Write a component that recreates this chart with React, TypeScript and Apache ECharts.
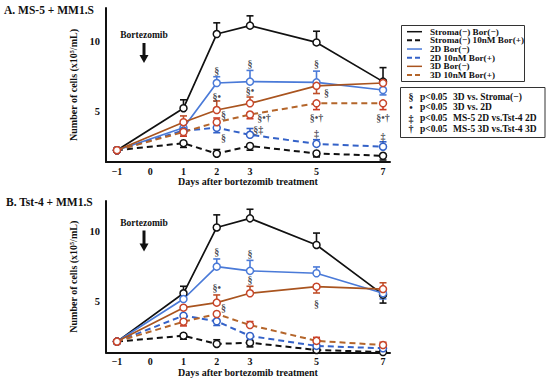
import React, { useEffect, useRef } from "react";
import * as echarts from "echarts";

const days = [-1, 1, 2, 3, 5, 7];
const xTickValues = [-1, 0, 1, 2, 3, 5, 7];
const yTickValues = [5, 10];
const seriesNames = [
  "Stroma(−) Bor(−)",
  "Stroma(−) 10nM Bor(+)",
  "2D Bor(−)",
  "2D 10nM Bor(+)",
  "3D Bor(−)",
  "3D 10nM Bor(+)",
];

// Panel A: MS-5 + MM1.S (x10^5 cells/mL)
const aStromaNeg = [2.2, 5.2, 10.5, 11.1, 9.9, 7.1];
const aStromaBor = [2.2, 2.7, 1.95, 2.5, 1.97, 1.8];
const a2DNeg = [2.2, 3.8, 7.0, 7.1, 7.05, 6.5];
const a2DBor = [2.2, 3.6, 3.8, 3.3, 2.65, 2.45];
const a3DNeg = [2.2, 4.2, 5.07, 5.55, 6.8, 7.0];
const a3DBor = [2.2, 3.5, 4.2, 4.75, 5.55, 5.55];
// signed error bar lengths (+ up, − down, 0 none)
const aStromaNegErr = [0, 0.6, 0.8, 0.7, 0.8, 1.0];
const aStromaBorErr = [0, -0.3, 0.3, -0.3, -0.25, -0.3];
const a2DNegErr = [0, -0.6, 0.45, 0.8, 0.8, -0.35];
const a2DBorErr = [0, 0, -0.35, 0.45, 0.3, 0.35];
const a3DNegErr = [0, 0.45, 0.65, 0.45, -0.55, 0.2];
const a3DBorErr = [0, -0.3, 0.3, -0.3, -0.45, -0.45];

// Panel B: Tst-4 + MM1.S
const bStromaNeg = [2.15, 5.6, 10.3, 10.95, 9.05, 5.5];
const bStromaBor = [2.15, 2.57, 1.98, 2.07, 1.55, 1.4];
const b2DNeg = [2.15, 5.19, 7.5, 7.2, 7.03, 5.6];
const b2DBor = [2.15, 4.0, 3.6, 2.55, 1.84, 1.67];
const b3DNeg = [2.15, 4.57, 4.93, 5.6, 6.07, 5.9];
const b3DBor = [2.15, 3.57, 4.12, 3.33, 2.2, 1.9];
const bStromaNegErr = [0, 0.5, 0.9, 0.65, 0.85, -0.6];
const bStromaBorErr = [0, -0.25, 0.3, -0.3, 0, 0];
const b2DNegErr = [0, 0, 0.55, 0.75, 0.45, -0.4];
const b2DBorErr = [0, 0, -0.3, -0.3, 0, 0];
const b3DNegErr = [0, 0, 0.55, 0.5, -0.45, 0.45];
const b3DBorErr = [0, -0.3, 0, 0.25, 0.25, 0.2];

// Significance marks: [day, value, text]
const aMarks: [number, number, string][] = [
  [2, 7.86, "§"], [3, 8.36, "§"], [5, 8.43, "§"],
  [2, 6.07, "§•"], [3, 6.43, "§•"],
  [2.2, 4.76, "§"], [5.3, 6.31, "§"],
  [3.42, 4.55, "§•†"], [5, 4.55, "§•†"], [7, 4.55, "§•†"],
  [2.2, 3.12, "§"], [3.25, 3.7, "§‡"],
  [5, 3.4, "‡"], [7, 3.21, "‡"],
];
const bMarks: [number, number, string][] = [
  [2, 8.57, "§"], [3, 8.46, "§"],
  [2, 6.0, "§•"], [3, 6.55, "§"],
  [2.2, 4.6, "§"], [5, 4.89, "§"],
];

const legendNotes: [string, string][] = [
  ["§", "3D vs. Stroma(−)"],
  ["•", "3D vs. 2D"],
  ["‡", "MS-5 2D vs.Tst-4 2D"],
  ["†", "MS-5 3D vs.Tst-4 3D"],
];

const FONT = "'Liberation Serif', 'Times New Roman', serif";
const BLACK = "#111111";
const BLUE = "#4a7ad8";
const BLUE_D = "#3462c8";
const BROWN = "#a9541f";
const BROWN_D = "#b4652a";
const RED_MK = "#c8452a";
const lineColors = [BLACK, BLACK, BLUE, BLUE_D, BROWN, BROWN_D];
const markerColors = [BLACK, BLACK, BLUE, BLUE_D, RED_MK, RED_MK];
const errColors = [BLACK, BLACK, BLUE, BLUE_D, "#c0502a", "#cc3a22"];
const dashed = [false, true, false, true, false, true];

function lineSeries(panel: number, idx: number, values: number[]) {
  return {
    type: "line",
    name: seriesNames[idx],
    xAxisIndex: panel,
    yAxisIndex: panel,
    data: days.map((d, i) => [d, values[i]]),
    symbol: "circle",
    symbolSize: 7,
    z: 4,
    lineStyle: {
      color: lineColors[idx],
      width: dashed[idx] ? 2 : 1.7,
      type: dashed[idx] ? [6, 4] : "solid",
    },
    itemStyle: { color: "#ffffff", borderColor: markerColors[idx], borderWidth: 1.5 },
    silent: true,
  };
}

function errSeries(panel: number, idx: number, values: number[], errs: number[]) {
  const data = days
    .map((d, i) => [d, values[i], values[i] + errs[i]])
    .filter((_, i) => errs[i] !== 0);
  const color = errColors[idx];
  return {
    type: "custom",
    xAxisIndex: panel,
    yAxisIndex: panel,
    z: 3,
    silent: true,
    data,
    encode: { x: 0, y: [1, 2] },
    renderItem: (_params: any, api: any) => {
      const p0 = api.coord([api.value(0), api.value(1)]);
      const p1 = api.coord([api.value(0), api.value(2)]);
      const hw = 3.5;
      return {
        type: "group",
        children: [
          { type: "line", shape: { x1: p0[0], y1: p0[1], x2: p1[0], y2: p1[1] }, style: { stroke: color, lineWidth: 1.6 } },
          { type: "line", shape: { x1: p1[0] - hw, y1: p1[1], x2: p1[0] + hw, y2: p1[1] }, style: { stroke: color, lineWidth: 1.6 } },
        ],
      };
    },
  };
}

function markSeries(panel: number, marks: [number, number, string][]) {
  return {
    type: "scatter",
    xAxisIndex: panel,
    yAxisIndex: panel,
    z: 6,
    silent: true,
    symbolSize: 1,
    itemStyle: { color: "transparent" },
    data: marks.map((m) => ({ value: [m[0], m[1]], label: { formatter: m[2] } })),
    label: {
      show: true,
      position: "inside",
      color: "#1a1a2a",
      fontFamily: FONT,
      fontWeight: "bold",
      fontSize: 10,
    },
  };
}

function xAxis(gridIndex: number) {
  return {
    type: "value",
    gridIndex,
    min: -1.33,
    max: 7.21,
    name: "Days after bortezomib treatment",
    nameLocation: "middle",
    nameGap: 13,
    nameTextStyle: { fontFamily: FONT, fontWeight: "bold", fontSize: 10, color: "#111" },
    axisLine: { onZero: false, lineStyle: { color: "#111", width: 2 } },
    axisTick: { show: false },
    splitLine: { show: false },
    axisLabel: {
      customValues: xTickValues,
      margin: 4,
      fontFamily: FONT,
      fontWeight: "bold",
      fontSize: 10,
      color: "#111",
      formatter: (v: number) => (v < 0 ? "−" + Math.abs(v) : String(v)),
    },
  };
}

function yAxis(gridIndex: number, min: number, max: number) {
  return {
    type: "value",
    gridIndex,
    min,
    max,
    name: "Number of cells (x10⁵/mL)",
    nameLocation: "middle",
    nameRotate: 90,
    nameGap: 18,
    nameTextStyle: { fontFamily: FONT, fontWeight: "bold", fontSize: 10, color: "#111" },
    axisLine: { show: true, onZero: false, lineStyle: { color: "#111", width: 2 } },
    axisTick: { show: false },
    splitLine: { show: false },
    axisLabel: {
      customValues: yTickValues,
      margin: 6,
      fontFamily: FONT,
      fontWeight: "bold",
      fontSize: 10.5,
      color: "#111",
    },
  };
}

function arrow(textY: number, topY: number, tipY: number) {
  const cx = 144;
  return [
    {
      type: "text",
      x: cx,
      y: textY,
      style: { text: "Bortezomib", fontFamily: FONT, fontWeight: "bold", fontSize: 9.5, fill: "#111", align: "center", verticalAlign: "middle" },
    },
    { type: "rect", shape: { x: cx - 1.5, y: topY, width: 3, height: tipY - topY - 7 }, style: { fill: "#111" } },
    { type: "polygon", shape: { points: [[cx - 4.5, tipY - 8], [cx + 4.5, tipY - 8], [cx, tipY]] }, style: { fill: "#111" } },
  ];
}

function legendGraphics() {
  const els: any[] = [];
  els.push({ type: "rect", shape: { x: 401.5, y: 25.5, width: 123, height: 56 }, style: { fill: "none", stroke: "#333", lineWidth: 1 } });
  seriesNames.forEach((n, i) => {
    const y = 31.7 + i * 8.66;
    els.push({
      type: "line",
      shape: { x1: 407, y1: y, x2: 422, y2: y },
      style: { stroke: lineColors[i], lineWidth: dashed[i] ? 2 : 1.5, lineDash: dashed[i] ? [5, 3] : null },
    });
    els.push({
      type: "text",
      x: 430,
      y,
      style: { text: n, fontFamily: FONT, fontWeight: "bold", fontSize: 9.2, fill: "#111", align: "left", verticalAlign: "middle" },
    });
  });
  els.push({ type: "rect", shape: { x: 400.5, y: 87.5, width: 144.5, height: 50 }, style: { fill: "none", stroke: "#333", lineWidth: 1 } });
  legendNotes.forEach((n, i) => {
    const y = 96.7 + i * 10.67;
    els.push({ type: "text", x: 411, y, style: { text: n[0], fontFamily: FONT, fontWeight: "bold", fontSize: 10, fill: "#1a1a2a", align: "center", verticalAlign: "middle" } });
    els.push({ type: "text", x: 420, y, style: { text: "p<0.05", fontFamily: FONT, fontWeight: "bold", fontSize: 9.5, fill: "#111", align: "left", verticalAlign: "middle" } });
    els.push({ type: "text", x: 453, y, style: { text: n[1], fontFamily: FONT, fontWeight: "bold", fontSize: 9.5, fill: "#111", align: "left", verticalAlign: "middle" } });
  });
  return els;
}

export default function App() {
  const ref = useRef<HTMLDivElement>(null);
  useEffect(() => {
    if (!ref.current) return;
    const chart = echarts.init(ref.current, undefined, { renderer: "svg" });
    const aVals = [aStromaNeg, aStromaBor, a2DNeg, a2DBor, a3DNeg, a3DBor];
    const aErrs = [aStromaNegErr, aStromaBorErr, a2DNegErr, a2DBorErr, a3DNegErr, a3DBorErr];
    const bVals = [bStromaNeg, bStromaBor, b2DNeg, b2DBor, b3DNeg, b3DBor];
    const bErrs = [bStromaNegErr, bStromaBorErr, b2DNegErr, b2DBorErr, b3DNegErr, b3DBorErr];
    const series: any[] = [];
    aVals.forEach((v, i) => {
      series.push(errSeries(0, i, v, aErrs[i]));
      series.push(lineSeries(0, i, v));
    });
    bVals.forEach((v, i) => {
      series.push(errSeries(1, i, v, bErrs[i]));
      series.push(lineSeries(1, i, v));
    });
    series.push(markSeries(0, aMarks));
    series.push(markSeries(1, bMarks));

    chart.setOption({
      animation: false,
      backgroundColor: "#ffffff",
      grid: [
        { left: 106, top: 8, width: 284, height: 154, outerBoundsMode: "none", containLabel: false },
        { left: 106, top: 201, width: 284, height: 151.5, outerBoundsMode: "none", containLabel: false },
      ],
      xAxis: [xAxis(0), xAxis(1)],
      yAxis: [yAxis(0, 1.357, 12.36), yAxis(1, 1.37, 12.19)],
      series,
      graphic: [
        { type: "text", x: 4, y: 10, style: { text: "A. MS-5 + MM1.S", fontFamily: FONT, fontWeight: "bold", fontSize: 11.5, fill: "#111", verticalAlign: "middle" } },
        { type: "text", x: 6, y: 201.7, style: { text: "B. Tst-4 + MM1.S", fontFamily: FONT, fontWeight: "bold", fontSize: 11.5, fill: "#111", verticalAlign: "middle" } },
        ...arrow(35, 43, 63),
        ...arrow(223, 230.5, 251.5),
        ...legendGraphics(),
      ],
    });
    return () => chart.dispose();
  }, []);
  return <div ref={ref} style={{ position: "fixed", left: 0, top: 0, width: 550, height: 383 }} />;
}
